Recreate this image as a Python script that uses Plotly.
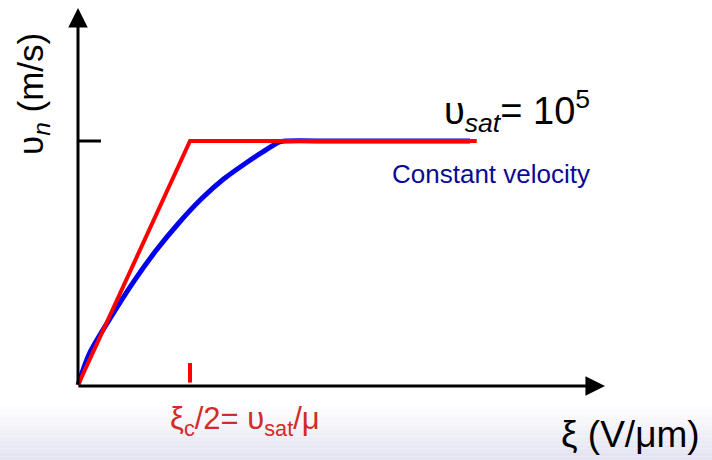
import plotly.graph_objects as go

# Idealised (piecewise-linear) drift velocity vs. field, normalised units:
# field in units of xi_c/2, velocity in units of v_sat
ideal_field = [0.0, 1.0, 3.56]
ideal_velocity = [0.0, 1.0, 1.0]

# Measured-style curve that bends over and saturates at v_sat
real_field = [0.0, 0.1, 0.3, 0.5, 0.7, 0.9, 1.1, 1.3, 1.5, 1.65, 1.8,
              1.86, 2.3, 3.5]
real_velocity = [0.0, 0.127, 0.283, 0.426, 0.553, 0.664, 0.762, 0.844,
                 0.910, 0.955, 0.996, 1.0, 1.0, 1.0]

v_sat = 1.0          # y position of the v_sat tick
xi_half = 1.0        # x position of the xi_c/2 tick

W, H = 712, 460
X_RANGE = [-0.6964, 5.6607]
Y_RANGE = [-0.3074, 1.5779]
FONT = "Liberation Sans, Arial, sans-serif"


def px(x_pix, y_pix):
    """Pixel position -> paper coordinates."""
    return x_pix / W, 1 - y_pix / H


fig = go.Figure()

fig.add_trace(go.Scatter(x=real_field, y=real_velocity, mode="lines",
                         line=dict(color="#0000ee", width=5, shape="spline",
                                   smoothing=0.8),
                         hoverinfo="skip", showlegend=False))
fig.add_trace(go.Scatter(x=ideal_field, y=ideal_velocity, mode="lines",
                         line=dict(color="#ff0000", width=4),
                         hoverinfo="skip", showlegend=False))

shapes = []
# soft lavender band along the bottom edge
n_strips = 14
top_pix, bottom_pix = 406, 460
for i in range(n_strips):
    t = (i + 1) / n_strips
    r = int(255 - (255 - 228) * t)
    g = int(255 - (255 - 228) * t)
    b = int(255 - (255 - 242) * t)
    y0 = top_pix + (bottom_pix - top_pix) * i / n_strips
    y1 = top_pix + (bottom_pix - top_pix) * (i + 1) / n_strips
    shapes.append(dict(type="rect", xref="paper", yref="paper",
                       x0=0, x1=1, y0=1 - y1 / H, y1=1 - y0 / H,
                       fillcolor=f"rgb({r},{g},{b})", line=dict(width=0),
                       layer="below"))

# v_sat tick on the vertical axis
shapes.append(dict(type="line", xref="x", yref="y", x0=0, x1=0.205,
                   y0=v_sat, y1=v_sat, line=dict(color="black", width=3)))
# xi_c/2 tick above the horizontal axis
shapes.append(dict(type="line", xref="x", yref="y", x0=xi_half, x1=xi_half,
                   y0=0.01, y1=0.09, line=dict(color="#ff0000", width=4)))

annotations = []
# axes drawn as arrows
annotations.append(dict(x=0, y=1.545, ax=0, ay=-0.004, xref="x", yref="y",
                        axref="x", ayref="y", showarrow=True, arrowhead=2,
                        arrowsize=1.3, arrowwidth=3, arrowcolor="black",
                        text="", standoff=0))
annotations.append(dict(x=4.705, y=-0.004, ax=-0.01, ay=-0.004, xref="x",
                        yref="y", axref="x", ayref="y", showarrow=True,
                        arrowhead=2, arrowsize=1.3, arrowwidth=3,
                        arrowcolor="black", text="", standoff=0))


def label(text, xp, yp, size, color="black", angle=0):
    x, y = px(xp, yp)
    annotations.append(dict(text=text, x=x, y=y, xref="paper", yref="paper",
                            xanchor="center", yanchor="middle",
                            showarrow=False, textangle=angle,
                            font=dict(family=FONT, size=size, color=color)))


label("υ<i><sub>n</sub></i> (m/s)", 33, 94, 35, angle=-90)
label("υ<sub><i>sat</i></sub>= 10<sup>5</sup>", 517, 111, 38)
label("Constant velocity", 491, 174, 26, color="#0a0a96")
label("ξ<sub>c</sub>/2= υ<sub>sat</sub>/μ", 245, 421, 31, color="#d42a2a")
label("ξ (V/μm)", 630, 434, 37)

fig.update_layout(
    width=W, height=H,
    margin=dict(l=0, r=0, t=0, b=0),
    paper_bgcolor="white", plot_bgcolor="rgba(0,0,0,0)",
    xaxis=dict(range=X_RANGE, visible=False, fixedrange=True),
    yaxis=dict(range=Y_RANGE, visible=False, fixedrange=True),
    shapes=shapes, annotations=annotations,
)

fig.write_html("out.html")
